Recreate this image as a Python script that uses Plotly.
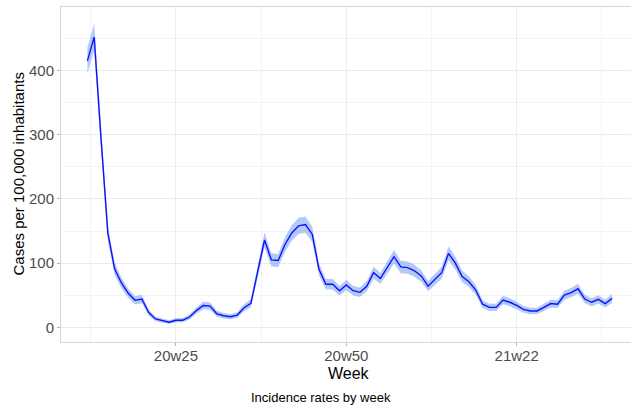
import plotly.graph_objects as go

weeks = [f"20w{w:02d}" for w in range(12, 54)] + [f"21w{w:02d}" for w in range(1, 37)]

rate = [415, 452, 295, 147, 91, 69, 53, 42, 44, 23,
        13, 10, 8, 11, 11, 16, 26, 34, 33, 21,
        18, 16.5, 19, 30.5, 37.5, 87, 136, 105, 104, 129,
        147, 158, 160, 145, 90, 67, 67, 57, 66, 57,
        54.5, 64, 85, 76, 94, 110, 94, 93, 88, 80,
        64, 75, 85, 115, 100, 79, 71, 58, 36, 31,
        31, 42.5, 39, 34, 28, 25.5, 25.5, 31, 37, 36,
        50, 54, 60, 44, 39, 43.5, 37, 45]

lower = [395, 431, 278, 135, 81.5, 61, 46, 35.5, 37.4, 18.2,
         9.4, 6.8, 5.2, 7.7, 7.7, 12, 21, 28.2, 27.3, 16.4,
         13.8, 12.5, 14.6, 25, 31.4, 77.7, 124.3, 94.8, 93.8, 117.6,
         134.9, 145.4, 147.4, 133, 80.5, 58.8, 58.8, 49.5, 57.9, 49.5,
         47.1, 56, 75.8, 67.3, 84.3, 99.5, 84.3, 83.4, 78.6, 71.1,
         56, 66.3, 75.8, 104.3, 90, 70.1, 62.6, 50.4, 30, 25.4,
         25.4, 36, 32.8, 28.2, 22.7, 20.5, 20.5, 25.4, 30.9, 30,
         42.9, 46.7, 52.3, 37.4, 32.8, 36.9, 30.9, 38.3]

upper = [435, 473, 312, 159, 100.5, 77, 60, 48.5, 50.6, 27.8,
         16.6, 13.2, 10.8, 14.3, 14.3, 20, 31, 39.8, 38.7, 25.6,
         22.2, 20.5, 23.4, 36, 43.6, 96.3, 147.7, 115.2, 114.2, 140.4,
         159.1, 170.6, 172.6, 157, 99.5, 75.2, 75.2, 64.5, 74.1, 64.5,
         61.9, 72, 94.2, 84.7, 103.7, 120.5, 103.7, 102.6, 97.4, 88.9,
         72, 83.7, 94.2, 125.7, 110, 87.9, 79.4, 65.6, 42, 36.6,
         36.6, 49, 45.2, 39.8, 33.3, 30.5, 30.5, 36.6, 43.1, 42,
         57.1, 61.3, 67.7, 50.6, 45.2, 50.1, 43.1, 51.7]

tick_labels = ["20w25", "20w50", "21w22"]
y_ticks = [0, 100, 200, 300, 400]

x = list(range(len(weeks)))
tick_pos = [weeks.index(t) for t in tick_labels]
minor_pos = [p - 12.5 for p in tick_pos] + [tick_pos[-1] + 12.5]

fig = go.Figure()
fig.add_trace(go.Scatter(x=x, y=upper, mode="lines", line=dict(width=0),
                         hoverinfo="skip", showlegend=False))
fig.add_trace(go.Scatter(x=x, y=lower, mode="lines", line=dict(width=0),
                         fill="tonexty", fillcolor="rgba(100,150,240,0.5)",
                         hoverinfo="skip", showlegend=False))
fig.add_trace(go.Scatter(x=x, y=rate, mode="lines",
                         line=dict(color="#1010ff", width=1.4),
                         customdata=weeks, hovertemplate="%{customdata}: %{y}<extra></extra>",
                         showlegend=False))

font_family = "Liberation Sans, Arial, sans-serif"
W, L, T, B = 570, 61, 7, 342
H = B - T
fig.update_layout(
    width=631, height=406,
    margin=dict(l=61, r=0, t=7, b=64, autoexpand=False),
    paper_bgcolor="white", plot_bgcolor="white",
    font=dict(family=font_family),
    xaxis=dict(
        range=[-3.87, 79.78],
        tickvals=tick_pos, ticktext=tick_labels,
        showgrid=True, gridcolor="#ebebeb", gridwidth=1,
        minor=dict(tickvals=minor_pos, showgrid=True, gridcolor="#f4f4f4", gridwidth=0.8),
        showline=True, linecolor="#d6d6d6", linewidth=1, mirror=True,
        ticks="outside", ticklen=3, tickcolor="#b3b3b3",
        tickfont=dict(size=15, color="#4d4d4d"), ticklabelstandoff=-3,
        zeroline=False, automargin=False,
    ),
    yaxis=dict(
        range=[-22.9, 498.9],
        tickvals=y_ticks,
        showgrid=True, gridcolor="#ebebeb", gridwidth=1,
        minor=dict(dtick=50, tick0=50, showgrid=True, gridcolor="#f4f4f4", gridwidth=0.8),
        showline=True, linecolor="#d6d6d6", linewidth=1,
        ticks="outside", ticklen=3, tickcolor="#b3b3b3",
        tickfont=dict(size=15, color="#4d4d4d"),
        zeroline=False, automargin=False,
    ),
    annotations=[
        dict(text="Week", xref="paper", yref="paper",
             x=(349 - L) / W, y=(B - 373) / H, xanchor="center", yanchor="middle",
             showarrow=False, font=dict(size=16, color="black")),
        dict(text="Cases per 100,000 inhabitants", xref="paper", yref="paper",
             x=(18 - L) / W, y=0.5, xanchor="center", yanchor="middle", textangle=-90,
             showarrow=False, font=dict(size=15, color="black")),
        dict(text="Incidence rates by week", xref="paper", yref="paper",
             x=(321 - L) / W, y=(B - 397) / H, xanchor="center", yanchor="middle",
             showarrow=False, font=dict(size=13, color="black")),
    ],
)

fig.write_html("out.html", config={"displayModeBar": False},
               post_script="document.body.style.margin='0';document.body.style.overflow='hidden';")
